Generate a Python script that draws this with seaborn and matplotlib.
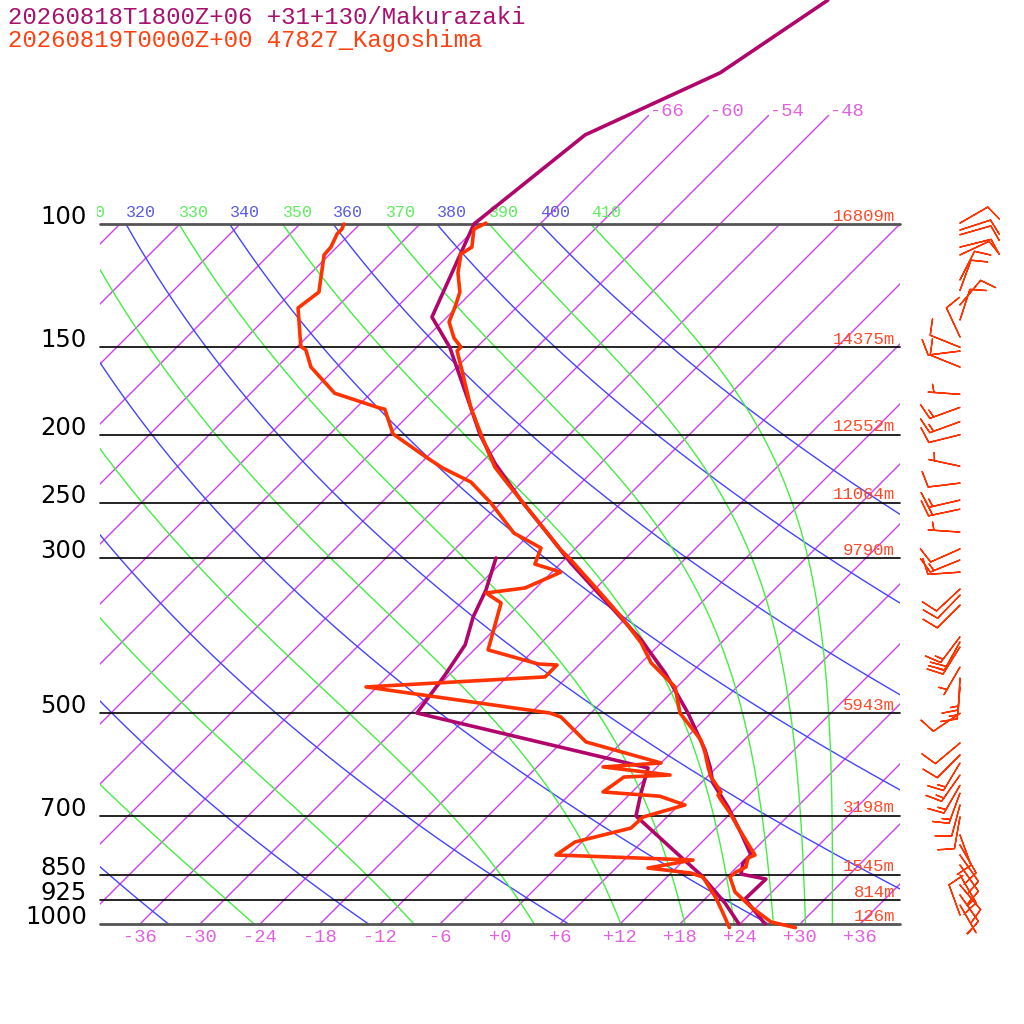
import numpy as np
import pandas as pd
import matplotlib
matplotlib.use("Agg")
import matplotlib.pyplot as plt
import seaborn as sns
from matplotlib.patches import Rectangle

# --- sounding data (hPa, degC) ---
mak_t_p = [47.9, 60.8, 74.6, 100, 135.8, 150, 183.2, 200.1, 219.6, 248.0,
           273.7, 305.1, 392.7, 437.8, 499.6, 564.1, 596.5, 629.0, 680.5, 741.3,
           797.0, 818.2, 848.5, 862.6, 921.0, 1000]
mak_t = [-59.6, -63.1, -70.4, -72.6, -67.5, -62.7, -54.5, -50.9, -46.6, -40.3,
         -34.9, -29.0, -14.3, -8.6, -2.3, 3.1, 5.3, 7.2, 11.1, 15.0,
         18.2, 18.2, 19.1, 22.1, 22.0, 26.5]

mak_td_p = [300, 333.4, 364.0, 399.2, 440.7, 499.6, 598.5, 650.0, 701.0, 802.3,
            851.1, 933.3, 1000]
mak_td = [-37.0, -34.8, -33.4, -31.4, -30.4, -29.4, -0.8, 1.0, 2.8, 11.4,
          15.2, 20.4, 23.9]

kag_t_p = [99.7, 101.7, 107.9, 110.4, 117.5, 125.1, 131.4, 138.0, 145.5, 149.9,
           151.8, 161.7, 172.8, 183.2, 194.9, 208.2, 222.5, 232.2, 248.0, 269.2,
           292.2, 302.0, 333.4, 364.0, 396.6, 423.6, 458.5, 499.6, 523.2, 546.0,
           569.6, 596.5, 616.6, 647.7, 654.2, 665.1, 694.1, 727.0, 776.2, 797.0,
           805.0, 829.0, 842.9, 856.9, 900.0, 945.6, 993.4, 1012]
kag_t = [-71.5, -72.1, -70.5, -70.9, -69.3, -67.2, -66.2, -65.3, -63.2, -61.6,
         -61.6, -59.2, -56.7, -54.5, -51.9, -49.1, -46.2, -43.9, -40.3, -35.8,
         -31.3, -29.3, -23.6, -18.6, -14.0, -11.0, -6.2, -3.1, -0.6, 1.7,
         3.4, 5.1, 6.4, 8.9, 8.9, 9.7, 11.9, 14.1, 17.3, 18.6,
         18.2, 18.9, 18.4, 18.3, 20.3, 23.4, 26.9, 29.9]

kag_td_p = [100, 101.7, 103.3, 107.9, 110.7, 125.1, 131.8, 149.5, 151.4, 160.1,
            174.5, 182.8, 183.9, 199.5, 216.1, 223.2, 233.7, 250.4, 276.4, 290.3,
            306.1, 314.3, 331.1, 336.6, 347.8, 405.9, 425.1, 426.6, 443.6, 458.5,
            499.6, 506.2, 549.5, 588.8, 596.5, 612.6, 616.6, 647.7, 656.8, 676.1,
            703.3, 729.4, 763.6, 797.0, 810.2, 831.8, 845.7, 856.9, 894.2, 918.1,
            964.5, 1012]
kag_td = [-85.6, -85.3, -85.3, -84.6, -84.5, -81.3, -81.8, -77.7, -76.8, -74.6,
          -69.6, -63.9, -63.0, -59.7, -53.8, -51.3, -47.1, -43.0, -37.7, -33.5,
          -32.5, -29.1, -31.1, -34.5, -32.0, -28.6, -22.2, -20.2, -20.2, -37.1,
          -16.1, -14.6, -9.6, 0.0, -5.4, 2.1, -2.3, -2.9, 3.2, 6.6,
          3.6, 3.5, -0.7, -1.3, 12.9, 9.2, 14.0, 15.6, 17.7, 19.0,
          21.2, 23.3]

# winds (hPa, deg, kt)
wind_p = [99.7, 102.0, 103.6, 107.9, 110.7, 120.2, 124.4, 130.5, 137.1, 145.0,
          150, 151.9, 160.1, 175.1, 182.8, 191.6, 200, 221.8, 234.5, 248,
          255.5, 275.5, 291.2, 302.0, 314.3, 332.3, 339.0, 350.3, 388.8, 395.3,
          401.9, 429.4, 445.1, 458.5, 500, 551.3, 573.5, 588.8, 612.6, 633.6,
          650.0, 676.1, 703.3, 746.2, 771.1, 797.0, 823.6, 851.1, 879.5, 909.0,
          939.4, 970.8]
wind_dir = [60, 72, 74, 76, 65, 27, 20, 40, 18, 335,
            292, 263, 292, 274, 250, 250, 256, 282, 263, 257,
            258, 274, 246, 248, 266, 227, 224, 225, 217, 209,
            212, 210, 183, 185, 236, 230, 225, 211, 215, 210,
            200, 195, 190, 160, 150, 145, 145, 150, 140, 145,
            150, 340]
wind_spd = [10, 10, 10, 10, 10, 10, 10, 10, 10, 10,
            10, 10, 10, 5, 15, 15, 10, 5, 10, 15,
            20, 5, 10, 15, 10, 10, 10, 10, 15, 20,
            15, 5, 15, 15, 10, 10, 10, 15, 15, 15,
            15, 10, 10, 10, 10, 10, 10, 15, 10, 10,
            5, 10]

levels = [100, 150, 200, 250, 300, 500, 700, 850, 925, 1000]
heights = ["16809m", "14375m", "12552m", "11064m", "9790m", "5943m",
           "3198m", "1545m", "814m", "126m"]

SKEW = 70.0  # degC per decade of pressure (45 deg isotherms)


def skew_x(t, p):
    return np.asarray(t) + SKEW * np.log10(1000.0 / np.asarray(p))


def theta_e_sat(tc, p):
    tk = tc + 273.15
    es = 6.112 * np.exp(17.67 * tc / (tc + 243.5))
    r = 0.622 * es / (p - es)
    return (tk * (1000.0 / p) ** (0.2854 * (1 - 0.28 * r))
            * np.exp((3.376 / tk - 0.00254) * r * 1000 * (1 + 0.81 * r)))


def moist_adiabat(thetae, p):
    lo = np.full_like(p, -140.0)
    hi = np.full_like(p, 40.0)
    for _ in range(60):
        mid = 0.5 * (lo + hi)
        f = theta_e_sat(mid, p) - thetae
        lo = np.where(f < 0, mid, lo)
        hi = np.where(f >= 0, mid, hi)
    return 0.5 * (lo + hi)


sns.set_theme(style="white")
plt.rcParams["font.family"] = ["DejaVu Sans"]
MONO = ["Liberation Mono", "DejaVu Sans Mono"]

fig = plt.figure(figsize=(10.24, 10.24), dpi=100)
ax = fig.add_axes([0, 0, 1, 1])
ax.set_yscale("log")

box = Rectangle((-40, 100), 80, 900, transform=ax.transData, fill=False, lw=0)
box_hi = Rectangle((-40, 60), 80, 940, transform=ax.transData, fill=False, lw=0)
box_lbl = Rectangle((-40.3, 60), 90, 940, transform=ax.transData, fill=False, lw=0)

pp = np.geomspace(1000, 100, 200)

# isotherms
for t in range(-108, 37, 6):
    top = 70 if -66 <= t <= -48 else 100
    pl = np.geomspace(1000, top, 60)
    ln, = ax.plot(skew_x(t, pl), pl, color="#d23cf2", lw=1.0)
    ln.set_clip_path(box_hi if top == 70 else box)
    if top == 70:
        ax.text(skew_x(t, 70) + 0.2, 70, f"{t:+d}",
                ha="left", va="baseline", color="#e060e0", fontsize=13.5, family=MONO)
for t in range(-36, 37, 6):
    ax.text(t, 1045, f"{t:+d}", ha="center", va="center", color="#e060e0",
            fontsize=13.5, family=MONO)

# dry adiabats (blue) and moist adiabats (green)
for th in range(240, 411, 10):
    if th % 20 == 0:
        tl = th * (pp / 1000.0) ** 0.2857 - 273.15
        col, lcol = "#4444ff", "#5a5af0"
    else:
        tl = moist_adiabat(th, pp)
        col, lcol = "#44ee44", "#5cf05c"
    ln, = ax.plot(skew_x(tl, pp), pp, color=col, lw=1.0)
    ln.set_clip_path(box)
    x100 = skew_x(tl[-1], 100)
    if x100 > -40:
        ax.annotate(str(th), (x100, 100), xytext=(0, 3), textcoords="offset points",
                    ha="left", va="bottom", color=lcol, fontsize=12, family=MONO)
    elif x100 > -43:
        # label mostly cut off by the left edge: only its last digit shows
        txt = ax.annotate(str(th)[-1], (x100 + 2.0, 100), xytext=(0, 3),
                          textcoords="offset points", ha="left", va="bottom",
                          color=lcol, fontsize=12, family=MONO)
        txt.set_clip_path(box_lbl)

# pressure levels
for p, h in zip(levels, heights):
    edge = p in (100, 1000)
    ax.plot([-40, 40], [p, p], color="#555555" if edge else "black",
            lw=2.0 if edge else 1.2, zorder=3)
    ax.text(-41.3, p, str(p), ha="right", va="baseline", fontsize=17.5, color="black")
    ax.annotate(h, (39.5, p), xytext=(0, 2.5), textcoords="offset points",
                ha="right", va="baseline", color="#ff4a2a", fontsize=12.5, family=MONO)

# profiles
profiles = [
    (mak_t_p, mak_t, "#b0066c", 2.6),
    (mak_td_p, mak_td, "#b0066c", 2.6),
    (kag_t_p, kag_t, "#ff3300", 2.6),
    (kag_td_p, kag_td, "#ff3300", 2.6),
]
for p, t, col, lw in profiles:
    df = pd.DataFrame({"x": skew_x(t, p), "p": p})
    sns.lineplot(data=df, x="x", y="p", sort=False, estimator=None,
                 color=col, lw=lw, ax=ax, zorder=5)

# wind barbs
wd = np.deg2rad(wind_dir)
ws = np.asarray(wind_spd, dtype=float)
u = -ws * np.sin(wd)
v = -ws * np.cos(wd)
ax.barbs(np.full(len(wind_p), 46.0), wind_p, u, v, length=6.8, color="#ff3300",
         linewidth=1.0, sizes=dict(emptybarb=0, height=0.5))

ax.set_xlim(-50, 52.4)
ax.set_ylim(1000 * 10 ** (100 / 700), 1000 * 10 ** (-924 / 700))
ax.set_axis_off()

fig.text(8 / 1024, 1 - 17 / 1024, "20260818T1800Z+06 +31+130/Makurazaki",
         color="#a8106e", fontsize=17.3, family=MONO, va="center", ha="left")
fig.text(8 / 1024, 1 - 41 / 1024, "20260819T0000Z+00 47827_Kagoshima",
         color="#ff4010", fontsize=17.3, family=MONO, va="center", ha="left")

fig.savefig("out.png", dpi=100, facecolor="white")
